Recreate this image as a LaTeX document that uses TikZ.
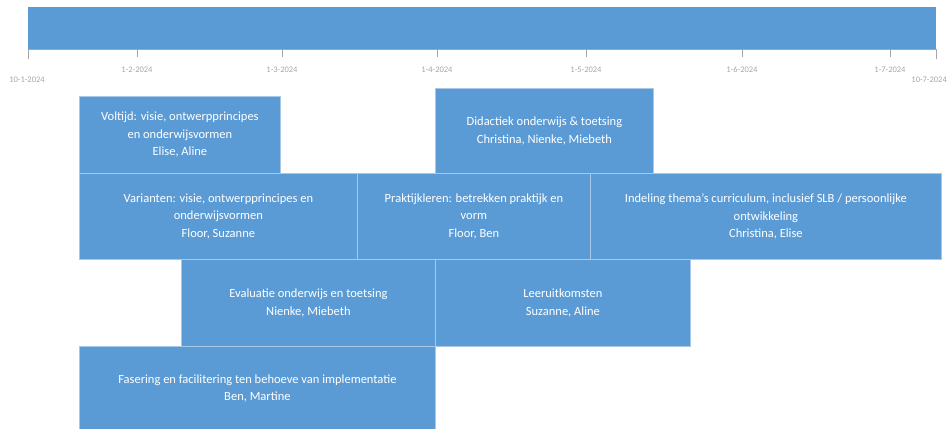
\documentclass[tikz,border=0pt]{standalone}
\usepackage{fontspec}
\setmainfont{Carlito}
\usetikzlibrary{positioning}

\definecolor{phaseblue}{HTML}{5B9BD5}
\definecolor{phaseline}{HTML}{A9C8E8}
\definecolor{axisgray}{HTML}{A6A6A6}

\begin{document}
\begin{tikzpicture}[
    x=1pt, y=-1pt,
    phase/.style={rectangle,draw=phaseline,line width=0.8pt,fill=phaseblue,
                  text=white,align=center,anchor=north west,inner sep=2pt,
                  font=\fontsize{12.5}{17.5}\selectfont},
    datum/.style={text=axisgray,font=\fontsize{8.5}{9}\selectfont,inner sep=1pt},
    tick/.style={draw=axisgray,line width=0.6pt}]

    \useasboundingbox (0,0) rectangle (949,428);

    % timeline bar and axis
    \node[rectangle,fill=phaseblue,minimum width=908pt,minimum height=42pt,
          anchor=north west,inner sep=0pt] (bar) at (28,7) {};
    \draw[tick] (bar.south west) -- (bar.south east);
    \draw[tick] (bar.south west) -- ++(0,10);
    \draw[tick] (bar.south east) -- ++(0,10);
    \foreach \x/\d in {137/1-2-2024, 282/1-3-2024, 437/1-4-2024,
                       586/1-5-2024, 742/1-6-2024, 890/1-7-2024}
    {
      \draw[tick] (\x,49) -- (\x,57);
      \node[datum] (d\x) at (\x,70) {\d};
    }
    \node[datum] (start) at (27,80) {10-1-2024};
    \node[datum,anchor=east] (end) at (948,80) {10-7-2024};

    % row 1
    \node[phase,minimum width=201pt,minimum height=77pt] (voltijd) at (79,96)
      {Voltijd: visie, ontwerpprincipes\\en onderwijsvormen\\Elise, Aline};
    \node[phase,minimum width=218pt,minimum height=85pt] (didactiek) at (435,88)
      {Didactiek onderwijs \& toetsing\\Christina, Nienke, Miebeth};

    % row 2
    \node[phase,minimum width=278pt,minimum height=86pt] (varianten) at (79,173)
      {Varianten: visie, ontwerpprincipes en\\onderwijsvormen\\Floor, Suzanne};
    \node[phase,minimum width=233pt,minimum height=86pt] (praktijk) at (357,173)
      {Praktijkleren: betrekken praktijk en\\vorm\\Floor, Ben};
    \node[phase,minimum width=351pt,minimum height=86pt] (indeling) at (590,173)
      {Indeling thema's curriculum, inclusief SLB / persoonlijke\\ontwikkeling\\Christina, Elise};

    % row 3
    \node[phase,minimum width=254pt,minimum height=87pt] (evaluatie) at (181,259)
      {Evaluatie onderwijs en toetsing\\Nienke, Miebeth};
    \node[phase,minimum width=255pt,minimum height=87pt] (leer) at (435,259)
      {Leeruitkomsten\\Suzanne, Aline};

    % row 4
    \node[phase,minimum width=356pt,minimum height=84pt] (fasering) at (79,346)
      {Fasering en facilitering ten behoeve van implementatie\\Ben, Martine};
\end{tikzpicture}
\end{document}
